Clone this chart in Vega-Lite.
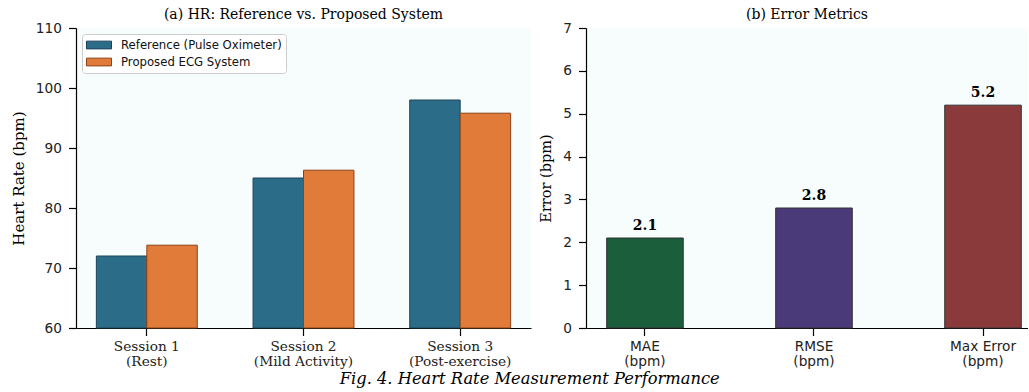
{
  "$schema": "https://vega.github.io/schema/vega-lite/v6.json",
  "padding": {"left": 11, "top": 8, "right": 0, "bottom": 2},
  "background": "white",
  "spacing": 7,
  "config": {
    "view": {"stroke": null, "fill": "#f7fdfd"},
    "axis": {
      "domainColor": "black", "domainWidth": 1.2, "tickColor": "black", "tickWidth": 1.2,
      "tickSize": 7.5, "labelPadding": 7, "labelFont": "DejaVu Sans", "labelFontSize": 13.7,
      "labelColor": "#222222", "titleFont": "DejaVu Serif", "titleFontSize": 15,
      "titleFontWeight": "normal", "titleColor": "black", "grid": false
    },
    "title": {"font": "DejaVu Serif", "fontSize": 14, "fontWeight": "normal", "color": "black", "offset": -1}
  },
  "title": {
    "text": "Fig. 4. Heart Rate Measurement Performance", "orient": "bottom", "anchor": "middle",
    "font": "DejaVu Serif", "fontStyle": "italic", "fontSize": 16.3, "fontWeight": "normal", "offset": 3, "dx": 10
  },
  "datasets": {
    "hr": [
      {"session": "Session 1|(Rest)", "system": "Reference (Pulse Oximeter)", "hr": 72},
      {"session": "Session 1|(Rest)", "system": "Proposed ECG System", "hr": 73.8},
      {"session": "Session 2|(Mild Activity)", "system": "Reference (Pulse Oximeter)", "hr": 85},
      {"session": "Session 2|(Mild Activity)", "system": "Proposed ECG System", "hr": 86.3},
      {"session": "Session 3|(Post-exercise)", "system": "Reference (Pulse Oximeter)", "hr": 98},
      {"session": "Session 3|(Post-exercise)", "system": "Proposed ECG System", "hr": 95.8}
    ],
    "err": [
      {"metric": "MAE|(bpm)", "value": 2.1},
      {"metric": "RMSE|(bpm)", "value": 2.8},
      {"metric": "Max Error|(bpm)", "value": 5.2}
    ]
  },
  "hconcat": [
    {
      "width": 455,
      "height": 300,
      "title": "(a) HR: Reference vs. Proposed System",
      "data": {"name": "hr"},
      "mark": {"type": "bar", "strokeWidth": 1},
      "encoding": {
        "x": {
          "field": "session", "type": "nominal", "sort": null,
          "scale": {"paddingInner": 0.356, "paddingOuter": 0.13},
          "axis": {"title": null, "labelAngle": 0, "labelFont": "DejaVu Serif", "labelFontSize": 13.7,
                   "labelExpr": "split(datum.label, '|')", "labelLineHeight": 15, "labelPadding": 4}
        },
        "xOffset": {
          "field": "system", "type": "nominal",
          "sort": ["Reference (Pulse Oximeter)", "Proposed ECG System"],
          "scale": {"paddingInner": 0, "paddingOuter": 0}
        },
        "y": {
          "field": "hr", "type": "quantitative",
          "scale": {"domain": [60, 110], "nice": false, "zero": false},
          "axis": {"title": "Heart Rate (bpm)", "values": [60, 70, 80, 90, 100, 110], "titlePadding": 9}
        },
        "y2": {"datum": 60},
        "color": {
          "field": "system", "type": "nominal",
          "scale": {"domain": ["Reference (Pulse Oximeter)", "Proposed ECG System"], "range": ["#2b6c88", "#e07b39"]},
          "legend": {
            "title": null, "orient": "top-left", "offset": 6, "fillColor": "white", "strokeColor": "#cccccc",
            "cornerRadius": 3, "padding": 4, "labelFont": "DejaVu Sans", "labelFontSize": 11.7, "labelColor": "#111111",
            "labelLimit": 400,
            "symbolType": "M-1,-0.31H1V0.31H-1Z", "symbolSize": 625, "symbolStrokeWidth": 1,
            "symbolOpacity": 1, "clipHeight": 14, "rowPadding": 3, "labelOffset": 9
          }
        },
        "stroke": {
          "field": "system", "type": "nominal",
          "scale": {"domain": ["Reference (Pulse Oximeter)", "Proposed ECG System"], "range": ["#1c4458", "#8c4318"]},
          "legend": null
        }
      }
    },
    {
      "width": 442,
      "height": 300,
      "title": "(b) Error Metrics",
      "data": {"name": "err"},
      "encoding": {
        "x": {
          "field": "metric", "type": "nominal", "sort": null,
          "scale": {"paddingInner": 0.547, "paddingOuter": 0.081, "align": 0.755},
          "axis": {"title": null, "labelAngle": 0, "labelExpr": "split(datum.label, '|')", "labelLineHeight": 15, "labelPadding": 4}
        },
        "y": {
          "field": "value", "type": "quantitative",
          "scale": {"domain": [0, 7], "nice": false},
          "axis": {"title": "Error (bpm)", "values": [0, 1, 2, 3, 4, 5, 6, 7], "titlePadding": 9, "titleFontSize": 14.5}
        }
      },
      "layer": [
        {
          "mark": {"type": "bar", "stroke": "#333333", "strokeWidth": 1},
          "encoding": {
            "fill": {
              "field": "metric", "type": "nominal", "sort": null,
              "scale": {"domain": ["MAE|(bpm)", "RMSE|(bpm)", "Max Error|(bpm)"], "range": ["#1b5e3b", "#4a3a7a", "#8b3a3b"]},
              "legend": null
            }
          }
        },
        {
          "mark": {"type": "text", "baseline": "alphabetic", "dy": -8, "font": "DejaVu Serif", "fontWeight": "bold", "fontSize": 14, "fill": "black"},
          "encoding": {"text": {"field": "value", "type": "quantitative", "format": ".1f"}}
        }
      ]
    }
  ]
}
